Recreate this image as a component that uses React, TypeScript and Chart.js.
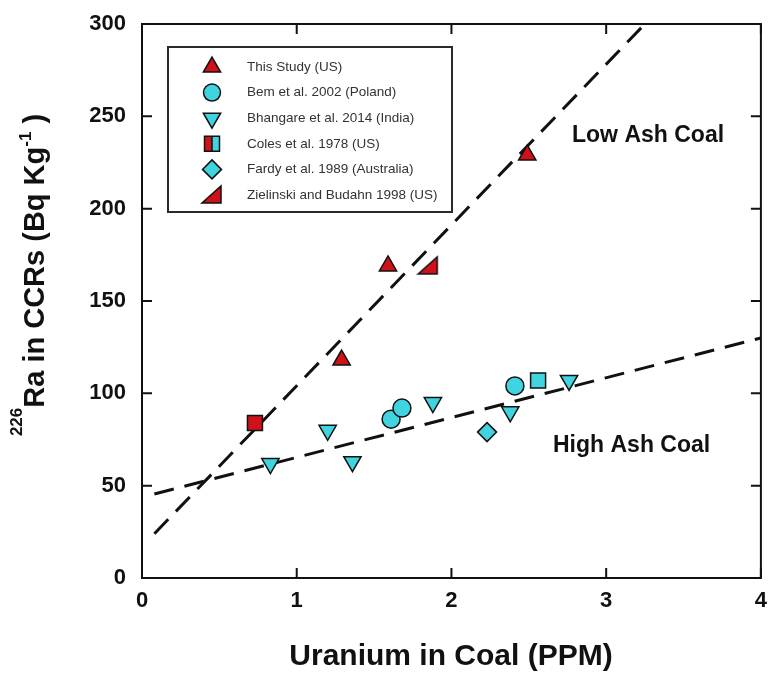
import React, { useEffect, useRef } from 'react';
import { Chart, registerables } from 'chart.js';

Chart.register(...registerables);

// ---- data ----
const seriesLabels = [
  'This Study (US)',
  'Bem et al. 2002 (Poland)',
  'Bhangare et al. 2014 (India)',
  'Coles et al. 1978 (US)',
  'Fardy et al. 1989 (Australia)',
  'Zielinski and Budahn 1998 (US)',
];
const thisStudyX = [1.29, 1.59, 2.49];
const thisStudyY = [118, 169, 229];
const bemX = [1.61, 1.68, 2.41];
const bemY = [86, 92, 104];
const bhangareX = [0.83, 1.2, 1.36, 1.88, 2.38, 2.76];
const bhangareY = [62, 80, 63, 95, 90, 107];
const colesX = [0.73, 2.56];
const colesY = [84, 107];
const fardyX = [2.23];
const fardyY = [79];
const zielinskiX = [1.85];
const zielinskiY = [169];
const lowAshLineX = [0.08, 3.25];
const lowAshLineY = [24, 300];
const highAshLineX = [0.08, 4];
const highAshLineY = [45.5, 130];
const xTicks = [0, 1, 2, 3, 4];
const yTicks = [0, 50, 100, 150, 200, 250, 300];
const annotations = ['Low Ash Coal', 'High Ash Coal'];
const xTitle = 'Uranium in Coal (PPM)';

const RED = '#cf1219';
const CYAN = '#40d4e0';
const INK = '#111111';
const FONT = "'Liberation Sans', Arial, Helvetica, sans-serif";

const pts = (xs: number[], ys: number[]) => xs.map((x, i) => ({ x, y: ys[i] }));

function drawShape(ctx: CanvasRenderingContext2D, kind: string) {
  ctx.lineWidth = 1.5;
  ctx.strokeStyle = INK;
  ctx.lineJoin = 'miter';
  const s60 = Math.sin(Math.PI / 3);
  ctx.beginPath();
  if (kind === 'tri') {
    const r = 10;
    ctx.moveTo(0, -r);
    ctx.lineTo(r * s60, r / 2);
    ctx.lineTo(-r * s60, r / 2);
    ctx.closePath();
    ctx.fillStyle = RED;
    ctx.fill();
    ctx.stroke();
  } else if (kind === 'invtri') {
    const r = 10;
    ctx.moveTo(0, r);
    ctx.lineTo(r * s60, -r / 2);
    ctx.lineTo(-r * s60, -r / 2);
    ctx.closePath();
    ctx.fillStyle = CYAN;
    ctx.fill();
    ctx.stroke();
  } else if (kind === 'circle') {
    ctx.arc(0, 0, 8.5, 0, Math.PI * 2);
    ctx.fillStyle = CYAN;
    ctx.fill();
    ctx.stroke();
  } else if (kind === 'diamond') {
    const r = 9.5;
    ctx.moveTo(0, -r);
    ctx.lineTo(r, 0);
    ctx.lineTo(0, r);
    ctx.lineTo(-r, 0);
    ctx.closePath();
    ctx.fillStyle = CYAN;
    ctx.fill();
    ctx.stroke();
  } else if (kind === 'coles') {
    const h = 7.5;
    ctx.fillStyle = RED;
    ctx.fillRect(-h, -h, h, 2 * h);
    ctx.fillStyle = CYAN;
    ctx.fillRect(0, -h, h, 2 * h);
    ctx.rect(-h, -h, 2 * h, 2 * h);
    ctx.moveTo(0, -h);
    ctx.lineTo(0, h);
    ctx.stroke();
  } else if (kind === 'ziel') {
    ctx.moveTo(-10, 8);
    ctx.lineTo(9, 8);
    ctx.lineTo(9, -9);
    ctx.closePath();
    ctx.fillStyle = RED;
    ctx.fill();
    ctx.stroke();
  }
}

function makeZielCanvas() {
  const c = document.createElement('canvas');
  c.width = 24;
  c.height = 22;
  const g = c.getContext('2d')!;
  g.translate(12, 11);
  drawShape(g, 'ziel');
  return c;
}

const legendKinds = ['tri', 'circle', 'invtri', 'coles', 'diamond', 'ziel'];

const overlayPlugin = {
  id: 'overlay',
  afterDraw(chart: any) {
    const { ctx, chartArea: a, scales } = chart;
    const xs = scales.x;
    const ys = scales.y;
    ctx.save();
    // frame
    ctx.strokeStyle = INK;
    ctx.lineWidth = 2;
    ctx.strokeRect(a.left, a.top, a.right - a.left, a.bottom - a.top);
    // inward ticks
    ctx.beginPath();
    for (const v of xTicks) {
      const px = xs.getPixelForValue(v);
      ctx.moveTo(px, a.bottom);
      ctx.lineTo(px, a.bottom - 10);
      ctx.moveTo(px, a.top);
      ctx.lineTo(px, a.top + 10);
    }
    for (const v of yTicks) {
      const py = ys.getPixelForValue(v);
      ctx.moveTo(a.left, py);
      ctx.lineTo(a.left + 10, py);
      ctx.moveTo(a.right, py);
      ctx.lineTo(a.right - 10, py);
    }
    ctx.stroke();

    // legend
    const lx = 168, ly = 47, lw = 284, lh = 165;
    ctx.fillStyle = '#ffffff';
    ctx.fillRect(lx, ly, lw, lh);
    ctx.strokeStyle = '#2a2a2a';
    ctx.lineWidth = 2;
    ctx.strokeRect(lx, ly, lw, lh);
    ctx.font = `13.5px ${FONT}`;
    ctx.textBaseline = 'middle';
    ctx.textAlign = 'left';
    seriesLabels.forEach((lab, i) => {
      const cy = 67 + i * 25.6;
      ctx.save();
      ctx.translate(212, cy);
      drawShape(ctx, legendKinds[i]);
      ctx.restore();
      ctx.fillStyle = '#333333';
      ctx.fillText(lab, 247, cy);
    });

    // annotations
    ctx.fillStyle = INK;
    ctx.font = `bold 23px ${FONT}`;
    ctx.textBaseline = 'alphabetic';
    ctx.fillText(annotations[0], 572, 142);
    ctx.fillText(annotations[1], 553, 452);

    // x title
    ctx.font = `bold 30px ${FONT}`;
    ctx.textAlign = 'center';
    ctx.fillText(xTitle, 451, 665);

    // y title with superscripts
    ctx.save();
    ctx.translate(44, 275);
    ctx.rotate(-Math.PI / 2);
    ctx.textAlign = 'left';
    const parts = [
      { t: '226', sup: true, raise: 22 },
      { t: 'Ra in CCRs (Bq Kg', sup: false, raise: 0 },
      { t: '-1', sup: true, raise: 13 },
      { t: ' )', sup: false, raise: 0 },
    ];
    const fontFor = (p: any) => (p.sup ? `bold 17px ${FONT}` : `bold 29px ${FONT}`);
    let total = 0;
    for (const p of parts) {
      ctx.font = fontFor(p);
      total += ctx.measureText(p.t).width;
    }
    let cx = -total / 2;
    for (const p of parts) {
      ctx.font = fontFor(p);
      ctx.fillText(p.t, cx, -p.raise);
      cx += ctx.measureText(p.t).width;
    }
    ctx.restore();
    ctx.restore();
  },
};

export default function App() {
  const ref = useRef<HTMLCanvasElement | null>(null);
  useEffect(() => {
    document.body.style.margin = '0';
    document.body.style.overflow = 'hidden';
    const canvas = ref.current;
    if (!canvas) return;
    const zielCanvas = makeZielCanvas();
    const common = { borderColor: INK, borderWidth: 1.5, showLine: false, order: 0 };
    const tickFont = { family: FONT, weight: 'bold' as const, size: 22 };
    const chart = new Chart(canvas, {
      type: 'scatter',
      data: {
        datasets: [
          {
            label: 'Low ash fit',
            type: 'line',
            data: pts(lowAshLineX, lowAshLineY),
            borderColor: INK,
            borderWidth: 3,
            borderDash: [20, 11],
            pointRadius: 0,
            fill: false,
            order: 10,
          } as any,
          {
            label: 'High ash fit',
            type: 'line',
            data: pts(highAshLineX, highAshLineY),
            borderColor: INK,
            borderWidth: 3,
            borderDash: [20, 11],
            pointRadius: 0,
            fill: false,
            order: 10,
          } as any,
          {
            ...common,
            label: seriesLabels[0],
            data: pts(thisStudyX, thisStudyY),
            pointStyle: 'triangle',
            pointRadius: 10,
            backgroundColor: RED,
          },
          {
            ...common,
            label: seriesLabels[1],
            data: pts(bemX, bemY),
            pointStyle: 'circle',
            pointRadius: 9,
            backgroundColor: CYAN,
          },
          {
            ...common,
            label: seriesLabels[2],
            data: pts(bhangareX, bhangareY),
            pointStyle: 'triangle',
            rotation: 180,
            pointRadius: 10,
            backgroundColor: CYAN,
          },
          {
            ...common,
            label: seriesLabels[3],
            data: pts(colesX, colesY),
            pointStyle: 'rect',
            pointRadius: 10.6,
            backgroundColor: [RED, CYAN],
          },
          {
            ...common,
            label: seriesLabels[4],
            data: pts(fardyX, fardyY),
            pointStyle: 'rectRot',
            pointRadius: 9.5,
            backgroundColor: CYAN,
          },
          {
            ...common,
            label: seriesLabels[5],
            data: pts(zielinskiX, zielinskiY),
            pointStyle: zielCanvas as any,
            pointRadius: 10,
            backgroundColor: RED,
          },
        ],
      },
      options: {
        animation: false,
        responsive: false,
        maintainAspectRatio: false,
        layout: { padding: { top: 24, right: 0, left: 0, bottom: 0 } },
        plugins: { legend: { display: false }, tooltip: { enabled: false } },
        scales: {
          x: {
            type: 'linear',
            min: 0,
            max: 4,
            afterBuildTicks: (s: any) => {
              s.ticks = xTicks.map((v) => ({ value: v }));
            },
            afterFit: (s: any) => {
              s.height = 95;
              s.paddingLeft = 0;
              s.paddingRight = 0;
            },
            grid: { display: false, drawTicks: false },
            border: { display: false },
            ticks: { font: tickFont, color: INK, padding: 10, maxRotation: 0, autoSkip: false },
          },
          y: {
            type: 'linear',
            min: 0,
            max: 300,
            afterBuildTicks: (s: any) => {
              s.ticks = yTicks.map((v) => ({ value: v }));
            },
            afterFit: (s: any) => {
              s.width = 142;
              s.paddingTop = 0;
              s.paddingBottom = 0;
            },
            grid: { display: false, drawTicks: false },
            border: { display: false },
            ticks: { font: tickFont, color: INK, padding: 16, autoSkip: false },
          },
        },
      },
      plugins: [overlayPlugin],
    });
    return () => chart.destroy();
  }, []);
  return (
    <div style={{ width: 768, height: 673, position: 'relative', overflow: 'hidden', background: '#fff' }}>
      <canvas ref={ref} width={773} height={673} style={{ display: 'block' }} />
    </div>
  );
}
